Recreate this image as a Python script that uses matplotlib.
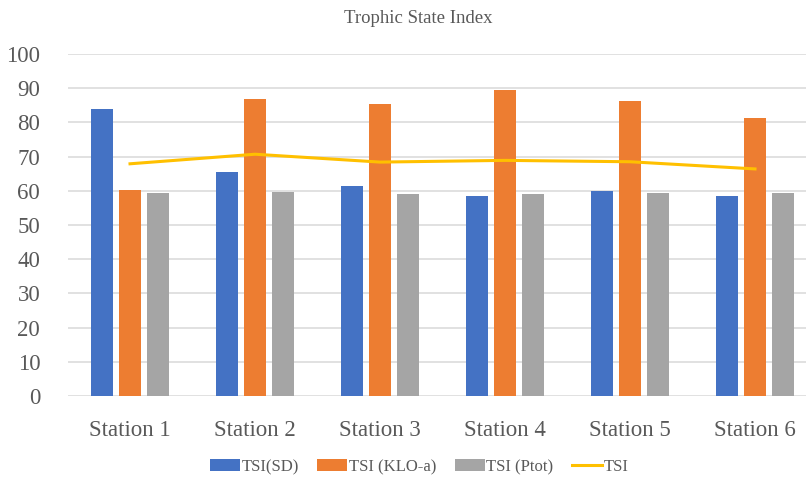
import matplotlib
matplotlib.use("Agg")
import matplotlib.pyplot as plt
import numpy as np

stations = ["Station 1", "Station 2", "Station 3", "Station 4", "Station 5", "Station 6"]
tsi_sd = [84.0, 65.4, 61.5, 58.6, 60.0, 58.6]
tsi_klo = [60.1, 86.8, 85.3, 89.6, 86.4, 81.3]
tsi_ptot = [59.4, 59.6, 59.1, 59.0, 59.4, 59.4]
tsi = [67.9, 70.7, 68.4, 68.9, 68.5, 66.4]

plt.rcParams['font.family'] = ['Liberation Serif', 'DejaVu Serif']
txt = '#595959'

fig = plt.figure(figsize=(8.06, 4.78), dpi=100)
ax = fig.add_axes([0.0844, 0.1715, 0.9156, 0.7155])

x = np.arange(len(stations))
w = 0.176
step = 0.224
b1 = ax.bar(x - step, tsi_sd, w, color='#4472C4', label='TSI(SD)', zorder=3)
b2 = ax.bar(x, tsi_klo, w, color='#ED7D31', label='TSI (KLO-a)', zorder=3)
b3 = ax.bar(x + step, tsi_ptot, w, color='#A5A5A5', label='TSI (Ptot)', zorder=3)
ln, = ax.plot(x, tsi, color='#FFC000', lw=2.2, label='TSI', zorder=4)

ax.set_ylim(0, 100)
ax.set_xlim(-0.496, 5.408)
ax.set_yticks(range(0, 101, 10))
ax.set_xticks(x)
ax.set_xticklabels(stations)
ax.grid(axis='y', color='#DEDEDE', lw=1.3, zorder=0)
for s in ax.spines.values():
    s.set_visible(False)
ax.tick_params(axis='both', length=0, labelsize=16.5, labelcolor=txt)
ax.tick_params(axis='y', pad=20)
ax.tick_params(axis='x', pad=17)

fig.text(0.5185, 0.962, 'Trophic State Index', ha='center', va='center',
         fontsize=13.5, color=txt)

fig.legend([b1, b2, b3, ln], ['TSI(SD)', 'TSI (KLO-a)', 'TSI (Ptot)', 'TSI'],
           loc='center', bbox_to_anchor=(0.52, 0.023), ncol=4, frameon=False,
           prop={'family': ['Liberation Serif'], 'size': 12},
           labelcolor=txt, handlelength=1.8, handleheight=0.7,
           handletextpad=0.1, columnspacing=1.1, borderpad=0)

fig.savefig('out.png', dpi=100)
